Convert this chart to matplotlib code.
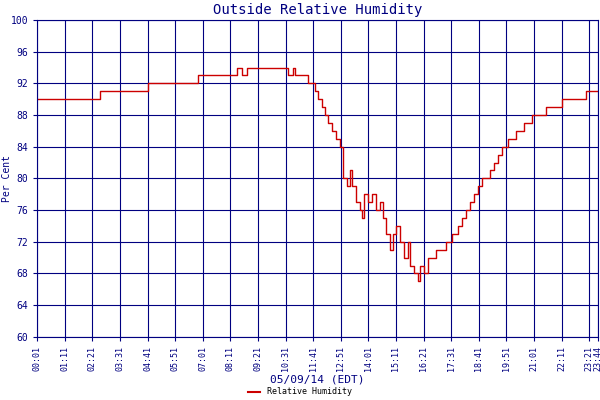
import matplotlib
matplotlib.use("Agg")
import matplotlib.pyplot as plt
import numpy as np

# minutes after midnight and humidity (%) at each step
minutes = [1, 160, 282, 408, 507, 520, 532, 636, 650, 655, 687, 705, 713, 723, 730, 738, 748, 758,
           768, 776, 786, 794, 799, 809, 819, 824, 829, 839, 850, 860, 870, 877, 885, 895,
           903, 910, 921, 931, 941, 946, 956, 966, 971, 981, 992, 1012, 1037, 1052, 1068,
           1078, 1088, 1098, 1108, 1118, 1129, 1149, 1159, 1169, 1179, 1194, 1215, 1235,
           1255, 1291, 1331, 1392, 1424]
humidity = [90, 91, 92, 93, 94, 93, 94, 93, 94, 93, 92, 91, 90, 89, 88, 87, 86, 85,
            84, 80, 79, 81, 79, 77, 76, 75, 78, 77, 78, 76, 77, 75, 73, 71,
            73, 74, 72, 70, 72, 69, 68, 67, 69, 68, 70, 71, 72, 73, 74,
            75, 76, 77, 78, 79, 80, 81, 82, 83, 84, 85, 86, 87,
            88, 89, 90, 91, 91]
tick_min = list(range(1, 1402, 70)) + [1424]
tick_lbl = ["%02d:%02d" % (m // 60, m % 60) for m in tick_min]

navy = "#000080"
plt.rcParams["font.family"] = "DejaVu Sans Mono"
fig = plt.figure(figsize=(6, 4), dpi=100)
ax = fig.add_axes([0.062, 0.158, 0.935, 0.792])
ax.step(minutes, humidity, where="post", color="#cc0000", lw=1)
ax.set_xlim(1, 1424)
ax.set_ylim(60, 100)
ax.set_yticks(range(60, 101, 4))
ax.set_xticks(tick_min)
ax.set_xticklabels(tick_lbl, rotation=90, fontsize=6, color=navy)
ax.tick_params(axis="y", labelsize=7, colors=navy, length=3)
ax.tick_params(axis="x", length=3, colors=navy)
ax.grid(True, color=navy, lw=0.8)
for s in ax.spines.values():
    s.set_color(navy)
ax.set_title("Outside Relative Humidity", color=navy, fontsize=10, pad=4)
ax.set_ylabel("Per Cent", color=navy, fontsize=7)
ax.yaxis.set_label_coords(-0.045, 0.5)
ax.set_xlabel("05/09/14 (EDT)", color=navy, fontsize=8, labelpad=3)
fig.legend(handles=[plt.Line2D([], [], color="#cc0000", lw=1.5)], labels=["Relative Humidity"],
           loc="lower center", bbox_to_anchor=(0.5, -0.01), frameon=False, fontsize=6,
           handlelength=1.5)
fig.savefig("out.png")
